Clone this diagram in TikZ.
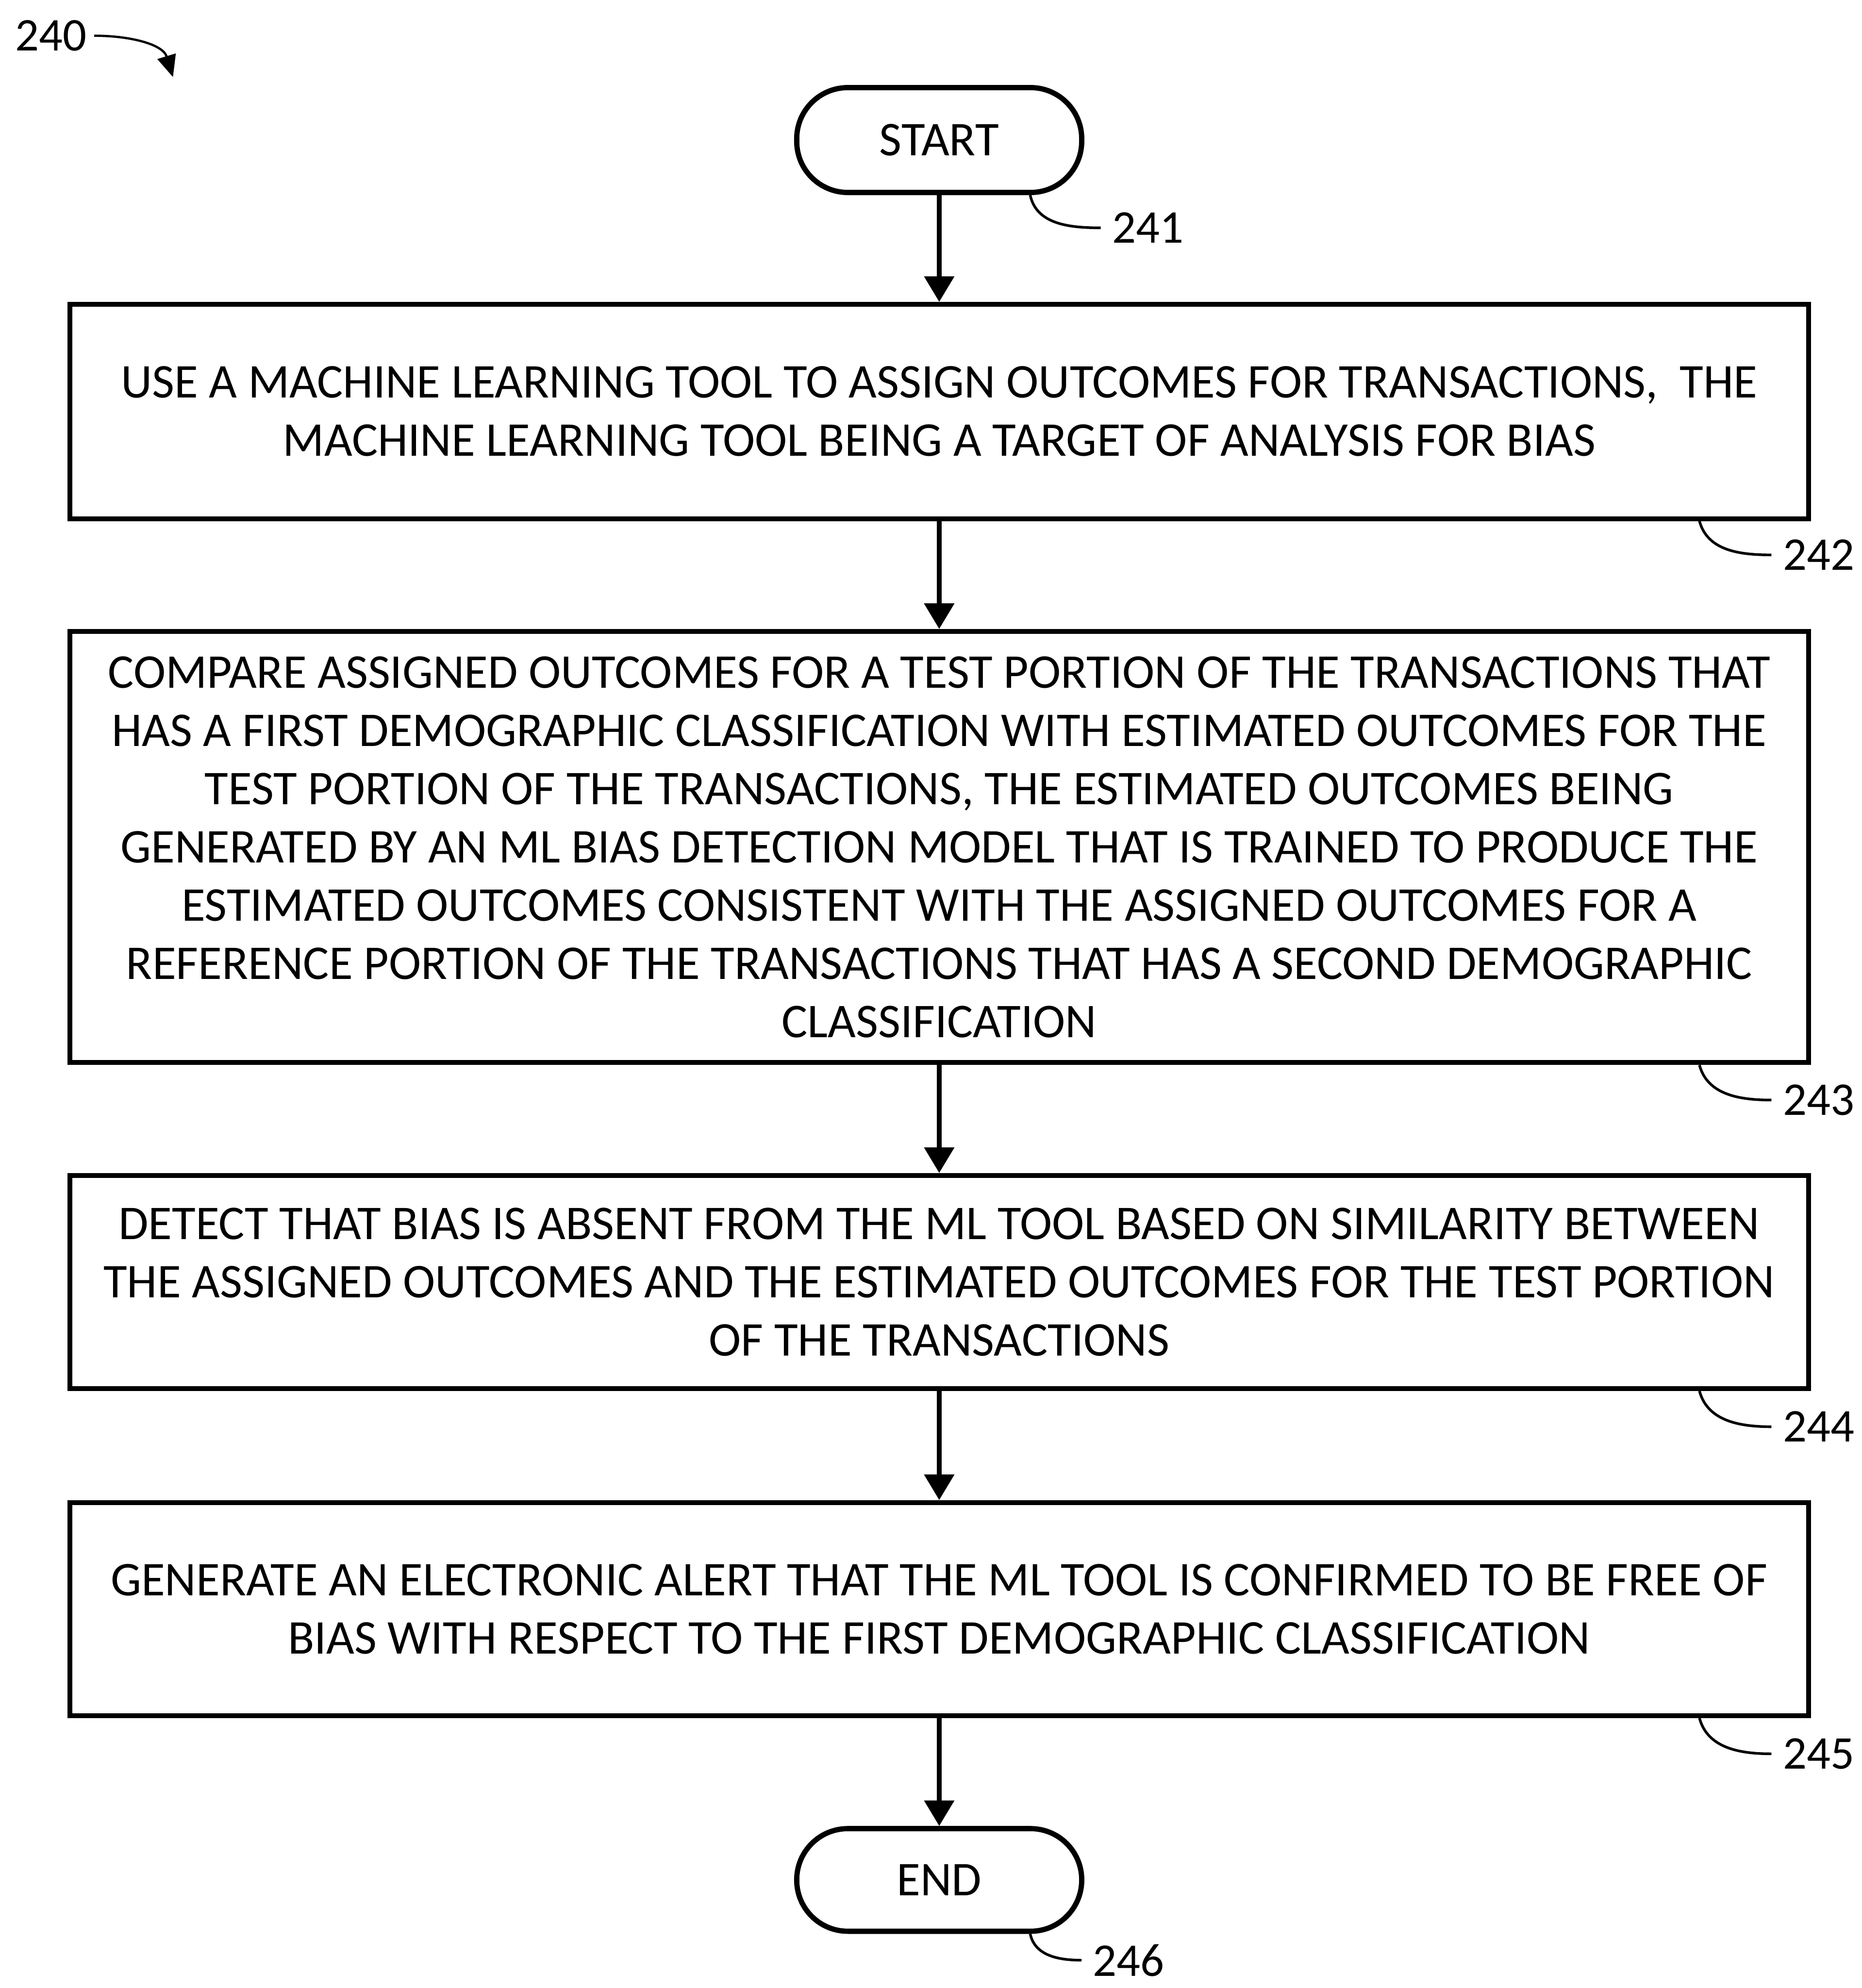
\documentclass[tikz,border=0pt]{standalone}
\usepackage{fontspec}
\setmainfont{Carlito}
\usetikzlibrary{arrows.meta,calc}
\begin{document}
\begin{tikzpicture}[
  every node/.style={font=\fontsize{36.7}{44.1}\selectfont},
  stepbox/.style={draw, line width=0.13cm, minimum width=46.25cm, align=center, inner sep=0pt},
  terminal/.style={draw, line width=0.14cm, rounded corners=1.36cm, minimum width=7.58cm, minimum height=2.79cm},
  flow/.style={line width=0.12cm, -{Triangle[width=0.78cm,length=0.68cm]}},
  leader/.style={line width=0.07cm},
  reflabel/.style={inner sep=0.3cm, font=\fontsize{35.5}{42}\selectfont},
  figarrow/.style={line width=0.06cm, -{Triangle[width=0.5cm,length=0.58cm]}}
]
\useasboundingbox (0,0) rectangle (49.52,-52.88);

% figure number
\node[inner sep=0.2cm, font=\fontsize{35.5}{42}\selectfont] (n240) at (1.35,-0.95) {240};
\coordinate (a240) at (4.60,-2.05);
\draw[figarrow] (n240.east) to[out=0,in=107] (a240);

% flow steps
\node[terminal] (start) at (24.98,-3.725) {START};

\node[stepbox, minimum height=5.70cm] (s242) at (24.98,-10.945)
  {USE A MACHINE LEARNING TOOL TO ASSIGN OUTCOMES FOR TRANSACTIONS,~ THE\\
   MACHINE LEARNING TOOL BEING A TARGET OF ANALYSIS FOR BIAS};

\node[stepbox, minimum height=11.47cm] (s243) at (24.98,-22.53)
  {COMPARE ASSIGNED OUTCOMES FOR A TEST PORTION OF THE TRANSACTIONS THAT\\
   HAS A FIRST DEMOGRAPHIC CLASSIFICATION WITH ESTIMATED OUTCOMES FOR THE\\
   TEST PORTION OF THE TRANSACTIONS, THE ESTIMATED OUTCOMES BEING\\
   GENERATED BY AN ML BIAS DETECTION MODEL THAT IS TRAINED TO PRODUCE THE\\
   ESTIMATED OUTCOMES CONSISTENT WITH THE ASSIGNED OUTCOMES FOR A\\
   REFERENCE PORTION OF THE TRANSACTIONS THAT HAS A SECOND DEMOGRAPHIC\\
   CLASSIFICATION};

\node[stepbox, minimum height=5.67cm] (s244) at (24.98,-34.10)
  {DETECT THAT BIAS IS ABSENT FROM THE ML TOOL BASED ON SIMILARITY BETWEEN\\
   THE ASSIGNED OUTCOMES AND THE ESTIMATED OUTCOMES FOR THE TEST PORTION\\
   OF THE TRANSACTIONS};

\node[stepbox, minimum height=5.67cm] (s245) at (24.98,-42.80)
  {GENERATE AN ELECTRONIC ALERT THAT THE ML TOOL IS CONFIRMED TO BE FREE OF\\
   BIAS WITH RESPECT TO THE FIRST DEMOGRAPHIC CLASSIFICATION};

\node[terminal, minimum height=2.73cm] (end) at (24.98,-50.005) {END};

% connectors
\draw[flow] (start.south) -- (s242.north);
\draw[flow] (s242.south) -- (s243.north);
\draw[flow] (s243.south) -- (s244.north);
\draw[flow] (s244.south) -- (s245.north);
\draw[flow] (s245.south) -- (end.north);

% reference numerals
\node[reflabel] (r241) at (30.53,-6.06) {241};
\node[reflabel] (r242) at (48.37,-14.76) {242};
\node[reflabel] (r243) at (48.37,-29.26) {243};
\node[reflabel] (r244) at (48.37,-37.95) {244};
\node[reflabel] (r245) at (48.37,-46.65) {245};
\node[reflabel] (r246) at (30.02,-52.14) {246};

\draw[leader] ($(start.south east)+(-1.44,0)$) to[out=-78,in=180] (r241.west);
\draw[leader] ($(s242.south east)+(-2.97,0)$) to[out=-75,in=180] (r242.west);
\draw[leader] ($(s243.south east)+(-2.97,0)$) to[out=-75,in=180] (r243.west);
\draw[leader] ($(s244.south east)+(-2.97,0)$) to[out=-75,in=180] (r244.west);
\draw[leader] ($(s245.south east)+(-2.97,0)$) to[out=-75,in=180] (r245.west);
\draw[leader] ($(end.south east)+(-1.44,0)$) to[out=-78,in=180] (r246.west);
\end{tikzpicture}
\end{document}
